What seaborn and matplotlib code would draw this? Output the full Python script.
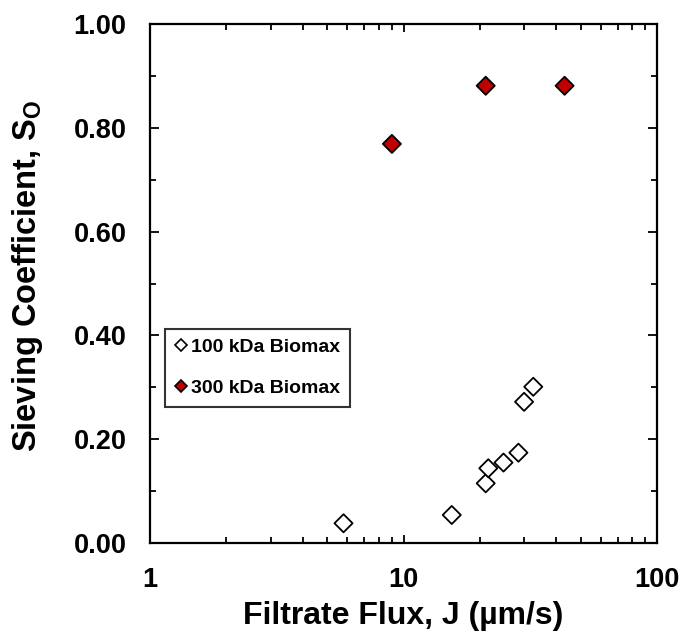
import matplotlib
matplotlib.use("Agg")
import matplotlib.pyplot as plt
import seaborn as sns
import pandas as pd
import numpy as np
from matplotlib.lines import Line2D
from matplotlib.ticker import FixedLocator, NullFormatter, FixedFormatter

# Data
flux_100 = [5.8, 15.5, 21.1, 21.6, 24.8, 28.4, 29.9, 32.5]
so_100 = [0.038, 0.054, 0.115, 0.144, 0.155, 0.174, 0.272, 0.301]
flux_300 = [9.0, 21.1, 43.2]
so_300 = [0.769, 0.881, 0.881]
series = ["100 kDa Biomax", "300 kDa Biomax"]
colors = {"100 kDa Biomax": "white", "300 kDa Biomax": "#C00000"}
x_ticks = [1, 10, 100]
x_ticklabels = ["1", "10", "100"]
y_ticks = [0.0, 0.2, 0.4, 0.6, 0.8, 1.0]
y_ticklabels = ["0.00", "0.20", "0.40", "0.60", "0.80", "1.00"]

df = pd.DataFrame({
    "flux": flux_100 + flux_300,
    "so": so_100 + so_300,
    "series": [series[0]] * len(flux_100) + [series[1]] * len(flux_300),
})

sns.set_theme(style="white")
plt.rcParams["font.family"] = ["Liberation Sans", "DejaVu Sans"]
plt.rcParams["font.weight"] = "bold"
plt.rcParams["text.color"] = "black"
plt.rcParams["axes.labelcolor"] = "black"
plt.rcParams["xtick.color"] = "black"
plt.rcParams["ytick.color"] = "black"
plt.rcParams["mathtext.fontset"] = "custom"
plt.rcParams["mathtext.rm"] = "Liberation Sans:bold"
plt.rcParams["mathtext.it"] = "Liberation Sans:bold"
plt.rcParams["mathtext.bf"] = "Liberation Sans:bold"

fig = plt.figure(figsize=(6.83, 6.33), dpi=100)
ax = fig.add_axes([150 / 683, 1 - 543 / 633, 507 / 683, 519 / 633])

sns.scatterplot(data=df, x="flux", y="so", hue="series", palette=colors,
                marker="D", s=85, edgecolor="black", linewidth=1.3,
                legend=False, ax=ax, zorder=3)

ax.set_xscale("log")
ax.set_xlim(1, 100)
ax.set_ylim(0, 1.0)

ax.xaxis.set_major_locator(FixedLocator(x_ticks))
ax.xaxis.set_major_formatter(FixedFormatter(x_ticklabels))
minors = [m * d for d in (1, 10) for m in range(2, 10)]
ax.xaxis.set_minor_locator(FixedLocator(minors))
ax.xaxis.set_minor_formatter(NullFormatter())
ax.yaxis.set_major_locator(FixedLocator(y_ticks))
ax.yaxis.set_major_formatter(FixedFormatter(y_ticklabels))
ax.yaxis.set_minor_locator(FixedLocator([0.1, 0.3, 0.5, 0.7, 0.9]))

ax.tick_params(axis="both", which="both", direction="in", color="black",
               labelcolor="black", top=True, bottom=True, left=True, right=True)
ax.tick_params(axis="x", which="major", length=6, width=1.3, pad=17, labelsize=19.5)
ax.tick_params(axis="x", which="minor", length=4, width=1.3)
ax.tick_params(axis="y", which="major", length=6.5, width=1.3, pad=17, labelsize=19.5)
ax.tick_params(axis="y", which="minor", length=4, width=1.3)
for lab in ax.get_xticklabels() + ax.get_yticklabels():
    lab.set_fontweight("bold")

for sp in ax.spines.values():
    sp.set_visible(True)
    sp.set_color("black")
    sp.set_linewidth(1.6)

ax.set_xlabel("Filtrate Flux, J (µm/s)", fontsize=23, fontweight="bold",
              color="black", labelpad=6)
ax.set_ylabel("Sieving Coefficient, S$_{\\mathrm{O}}$", fontsize=23.5,
              fontweight="bold", color="black")
ax.yaxis.set_label_coords(-0.207, 0.515)

handles = [Line2D([], [], marker="D", linestyle="none", markersize=6.5,
                  markerfacecolor=colors[s], markeredgecolor="black",
                  markeredgewidth=1.2, label=s) for s in series]
leg = ax.legend(handles=handles, loc="lower left", bbox_to_anchor=(0.03, 0.263),
                frameon=True, fancybox=False, edgecolor="black",
                prop={"weight": "bold", "size": 14}, handlelength=0.6,
                handletextpad=0.25, labelspacing=1.2, borderpad=0.5,
                borderaxespad=0)
leg.get_frame().set_linewidth(1.5)
for t in leg.get_texts():
    t.set_color("black")

fig.savefig("out.png", dpi=100)
